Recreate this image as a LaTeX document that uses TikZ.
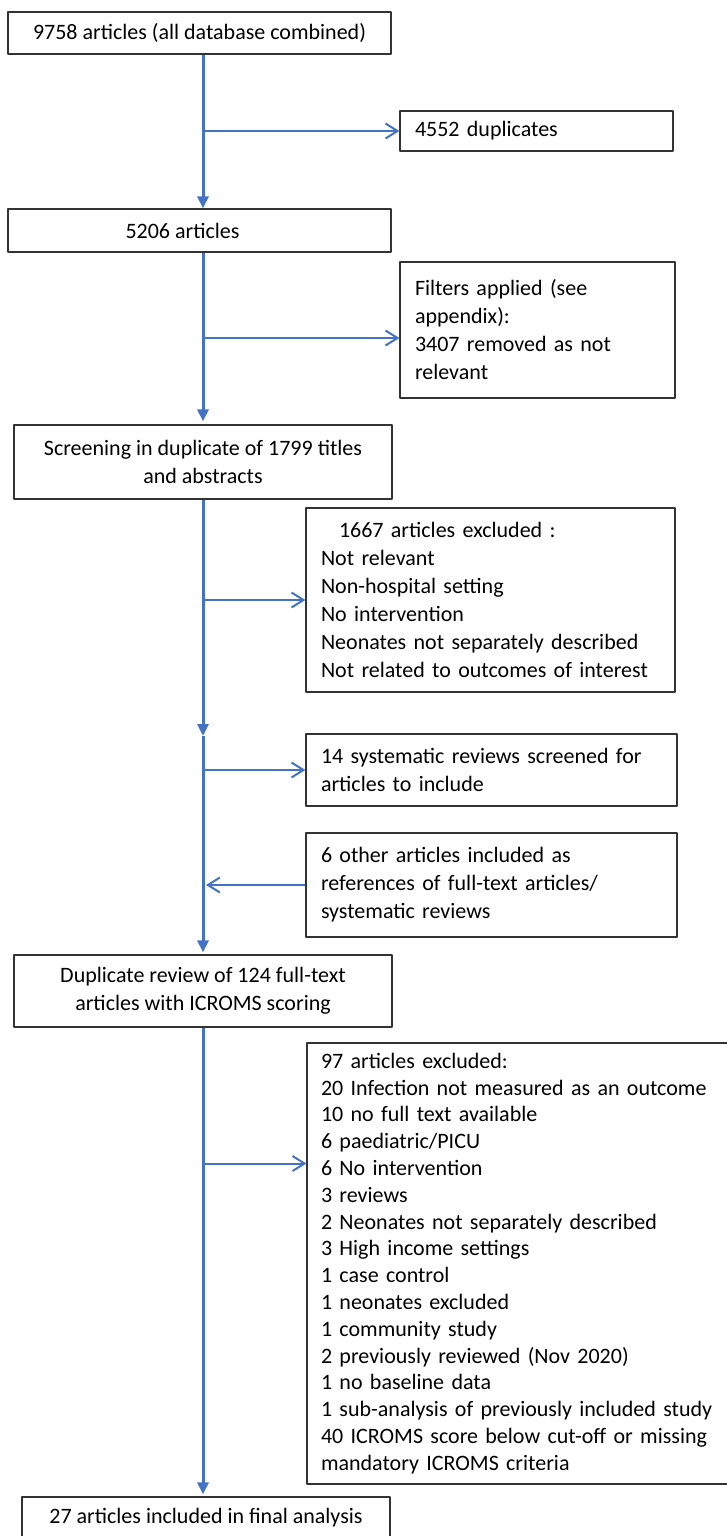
\documentclass[tikz,border=0pt]{standalone}
\usepackage{fontspec}
\setmainfont{Carlito}
\usetikzlibrary{arrows.meta, positioning, calc}
\definecolor{flowblue}{HTML}{4472C4}

\begin{document}
\begin{tikzpicture}[x=1pt, y=-1pt, line join=round,
    box/.style={draw=black!80, line width=1.2pt, inner xsep=15pt, inner ysep=0pt, font=\fontsize{22}{28}\selectfont},
    mainbox/.style={box, align=center},
    sidebox/.style={box, align=left},
    flow/.style={draw=flowblue, line width=3pt, -{Triangle[width=11pt, length=12pt]}},
    side/.style={draw=flowblue, line width=2pt, -{Straight Barb[width=15pt, length=12pt]}}]
      \useasboundingbox (0,0) rectangle (727,1536);
      \coordinate (spine) at (203,0);
      \coordinate (gap) at (203,736);
      \node[mainbox, minimum width=383pt, minimum height=42pt] (total) at (199.5,33) {9758 articles (all database combined)};
      \node[sidebox, text width=243pt, minimum height=40pt] (dup) at (536.5,131) {4552 duplicates};
      \node[mainbox, minimum width=383pt, minimum height=43pt] (after) at (199.5,230.5) {5206 articles\hspace*{34pt}};
      \node[sidebox, text width=245pt, minimum height=136pt] (filt) at (537.5,330) {Filters applied (see\\appendix):\\3407 removed as not\\relevant};
      \node[mainbox, minimum width=378pt, minimum height=74pt] (screen) at (203,462) {Screening in duplicate of 1799 titles\\and abstracts};
      \node[sidebox, text width=339pt, minimum height=184pt] (excla) at (490.5,600) {\hspace*{18pt}1667 articles excluded :\\Not relevant\\Non-hospital setting\\No intervention\\Neonates not separately described\\Not related to outcomes of interest};
      \node[sidebox, text width=341pt, minimum height=72pt] (sysrev) at (491.5,770) {14 systematic reviews screened for\\articles to include};
      \node[sidebox, text width=341pt, minimum height=104pt] (other) at (491.5,885) {6 other articles included as\\references of full-text articles/\\systematic reviews};
      \node[mainbox, minimum width=378pt, minimum height=72pt] (full) at (203,991) {Duplicate review of 124 full-text\\articles with ICROMS scoring};
      \node[sidebox, inner xsep=14pt, text width=402pt, minimum height=441pt, font=\fontsize{22}{26.8}\selectfont] (exclb) at (522,1263.5) {97 articles excluded:\\20 Infection not measured as an outcome\\10 no full text available\\6 paediatric/PICU\\6 No intervention\\3 reviews\\2 Neonates not separately described\\3 High income settings\\1 case control\\1 neonates excluded\\1 community study\\2 previously reviewed (Nov 2020)\\1 no baseline data\\1 sub-analysis of previously included study\\40 ICROMS score below cut-off or missing\\mandatory ICROMS criteria};
      \node[mainbox, minimum width=368pt, minimum height=42pt] (final) at (206,1518) {27 articles included in final analysis};
      \coordinate (filtin) at ([yshift=-8pt]filt.west);
      \coordinate (exclbin) at ([yshift=100pt]exclb.west);
      \draw[flow] (total.south -| spine) -- (after.north -| spine);
      \draw[side] (spine |- dup.west) -- (dup.west);
      \draw[flow] (after.south -| spine) -- ([yshift=3pt]screen.north -| spine);
      \draw[side] (spine |- filtin) -- (filtin);
      \draw[flow] (screen.south -| spine) -- (gap);
      \draw[side] (spine |- excla.west) -- (excla.west);
      \draw[flow] (gap) -- ([yshift=2pt]full.north -| spine);
      \draw[side] (spine |- sysrev.west) -- (sysrev.west);
      \draw[side] (other.west) -- ([xshift=3pt]spine |- other.west);
      \draw[flow] (full.south -| spine) -- ([yshift=2pt]final.north -| spine);
      \draw[side] (spine |- exclbin) -- (exclbin);
    \end{tikzpicture}
\end{document}
